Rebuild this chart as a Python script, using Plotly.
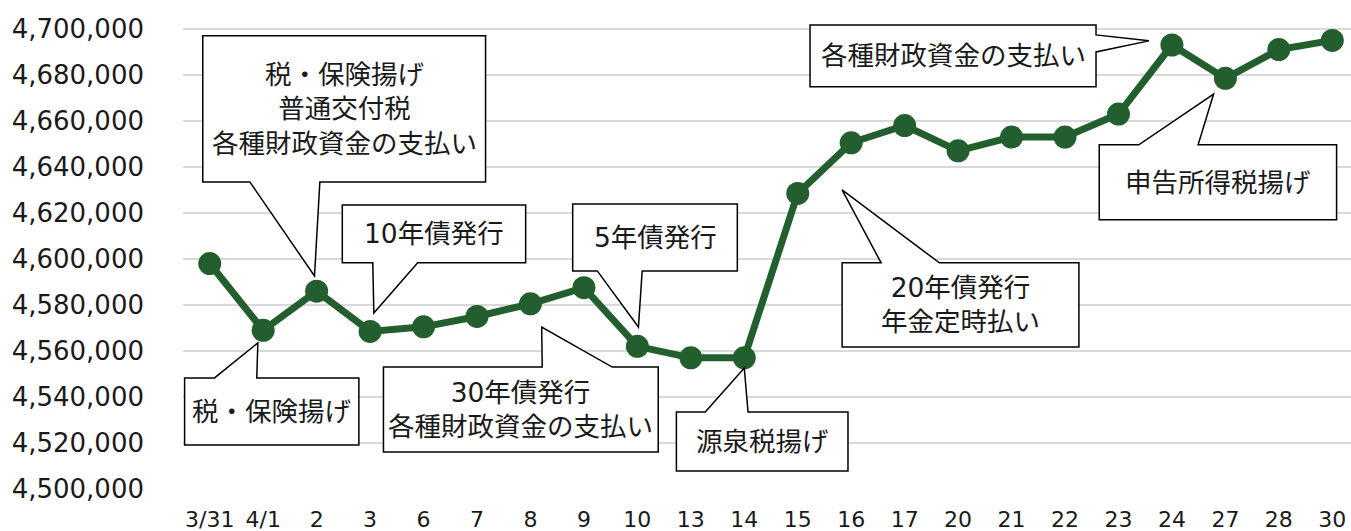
import plotly.graph_objects as go

# ---- data ----
categories = ["3/31", "4/1", "2", "3", "6", "7", "8", "9", "10", "13", "14",
              "15", "16", "17", "20", "21", "22", "23", "24", "27", "28", "30"]
balance = [4598000, 4569000, 4586000, 4568500, 4570500, 4575000, 4580500, 4587500,
           4562000, 4557000, 4557000, 4628500, 4650500, 4658000, 4647000, 4653000,
           4653000, 4663000, 4693000, 4678500, 4691000, 4695000]
y_ticks = [4500000 + 20000 * i for i in range(11)]

# callout texts and geometry (box x0, x1, y_top, y_bottom; pointer side, base a, b; tip)
callout_texts = [
    "税・保険揚げ<br>普通交付税<br>各種財政資金の支払い",
    "税・保険揚げ",
    "10年債発行",
    "30年債発行<br>各種財政資金の支払い",
    "5年債発行",
    "源泉税揚げ",
    "20年債発行<br>年金定時払い",
    "各種財政資金の支払い",
    "申告所得税揚げ",
]
callout_boxes = [
    (-0.13, 5.16, 4697000, 4633500),
    (-0.47, 2.79, 4548300, 4519100),
    (2.48, 5.91, 4623500, 4598300),
    (3.25, 8.39, 4553000, 4516100),
    (6.79, 9.87, 4623900, 4594800),
    (8.73, 11.94, 4533500, 4507800),
    (11.83, 16.26, 4598300, 4561700),
    (11.23, 16.58, 4701700, 4674800),
    (16.64, 21.08, 4649600, 4617000),
]
callout_sides = ["bottom", "top", "bottom", "top", "bottom", "top", "top", "right", "top"]
callout_bases = [
    (0.75, 2.06), (0.09, 0.88), (3.05, 3.89), (6.22, 7.53), (7.25, 8.09),
    (9.27, 10.07), (12.56, 13.65), (4697400, 4690000), (17.38, 18.49),
]
callout_tips = [
    (1.96, 4592600), (0.90, 4563500), (3.07, 4576500), (6.21, 4570400),
    (8.02, 4570400), (10.00, 4552600), (11.83, 4630000), (17.57, 4694800),
    (18.78, 4671700),
]

LINE = "#235E2F"
TXT = "#1a1a1a"
FONT = "DejaVu Sans, Noto Sans CJK JP, sans-serif"

xs = list(range(len(categories)))

fig = go.Figure()
fig.add_trace(go.Scatter(
    x=xs, y=balance, mode="lines+markers",
    line=dict(color=LINE, width=7),
    marker=dict(color=LINE, size=23),
    cliponaxis=False, showlegend=False, hoverinfo="skip",
))


def callout_path(box, side, base, tip):
    x0, x1, yt, yb = box
    a, b = base
    tx, ty = tip
    if side == "bottom":
        pts = [(x0, yt), (x1, yt), (x1, yb), (b, yb), (tx, ty), (a, yb), (x0, yb)]
    elif side == "top":
        pts = [(x0, yt), (a, yt), (tx, ty), (b, yt), (x1, yt), (x1, yb), (x0, yb)]
    else:  # right
        pts = [(x0, yt), (x1, yt), (x1, a), (tx, ty), (x1, b), (x1, yb), (x0, yb)]
    return "M " + " L ".join(f"{px},{py}" for px, py in pts) + " Z"


for text, box, side, base, tip in zip(callout_texts, callout_boxes, callout_sides,
                                      callout_bases, callout_tips):
    fig.add_shape(type="path", path=callout_path(box, side, base, tip),
                  xref="x", yref="y", fillcolor="white",
                  line=dict(color="black", width=1.5), layer="above")
    fig.add_annotation(x=(box[0] + box[1]) / 2, y=(box[2] + box[3]) / 2,
                       xref="x", yref="y", text=text, showarrow=False,
                       font=dict(family=FONT, size=26.5, color=TXT),
                       align="center", xanchor="center", yanchor="middle")

fig.update_layout(
    width=1351, height=531,
    margin=dict(l=183, r=0, t=22, b=42, autoexpand=False),
    paper_bgcolor="white", plot_bgcolor="white",
    font=dict(family=FONT, color=TXT),
    showlegend=False,
    xaxis=dict(
        range=[-0.5, 21.35], tickmode="array", tickvals=xs, ticktext=categories,
        showgrid=False, zeroline=False, showline=False, ticks="",
        tickfont=dict(family=FONT, size=22, color=TXT),
        ticklabelstandoff=15, automargin=False,
    ),
    yaxis=dict(
        range=[4500000, 4703000], tickmode="array", tickvals=y_ticks,
        tickformat=",d", showgrid=True, gridcolor="#D9D9D9", gridwidth=1.5,
        zeroline=False, showline=False, ticks="",
        tickfont=dict(family=FONT, size=26, color=TXT),
        ticklabelstandoff=38, automargin=False,
    ),
)

fig.write_html(
    "out.html",
    config={"displayModeBar": False},
    post_script="document.body.style.margin='0';document.body.style.overflow='hidden';",
)
